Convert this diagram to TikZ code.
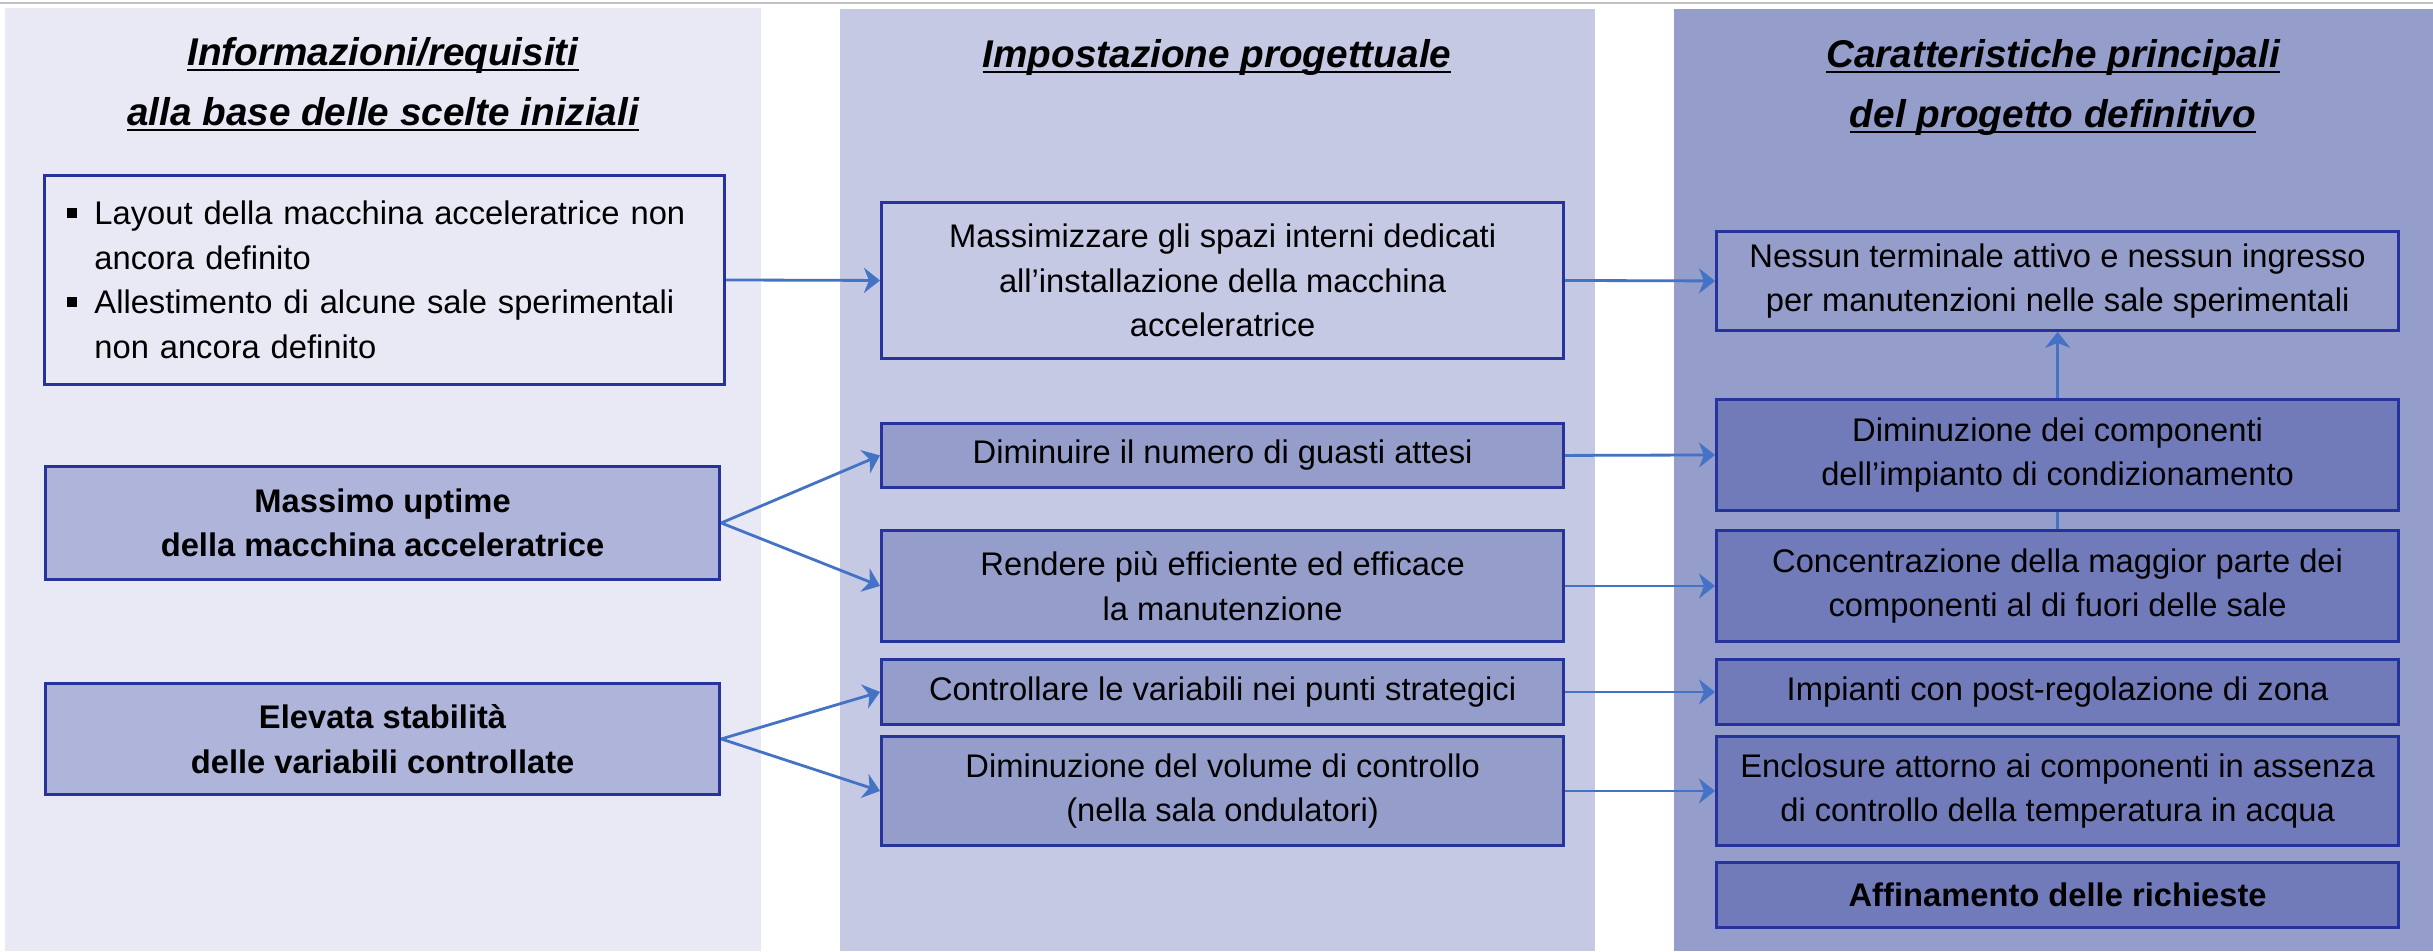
\documentclass[tikz,border=0pt]{standalone}
\usepackage{fontspec}
\setmainfont{Liberation Sans}
\usetikzlibrary{arrows.meta}
\definecolor{PanelA}{HTML}{E8E9F4}
\definecolor{PanelB}{HTML}{C5C9E4}
\definecolor{PanelC}{HTML}{959DCB}
\definecolor{FillA}{HTML}{AFB5DA}
\definecolor{FillC}{HTML}{717BB9}
\definecolor{BoxLine}{HTML}{25339A}
\definecolor{LinkClr}{HTML}{4472C4}
\definecolor{RuleClr}{HTML}{C0C0C0}

\newcommand{\bodyfont}{\fontsize{9.3}{12.7}\selectfont}
\newcommand{\sqbul}{\makebox[0.27cm][l]{\rule[2pt]{2.8pt}{2.8pt}}}
\newcommand{\sqind}{\hspace*{0.27cm}}

\begin{document}
\begin{tikzpicture}[x=0.01cm,y=-0.01cm,
  title/.style={font=\fontsize{11}{17}\selectfont\bfseries\itshape,align=center,inner sep=0pt},
  box/.style={draw=BoxLine,line width=0.8pt,inner sep=0pt,anchor=north west,align=center,font=\bodyfont},
  boldbox/.style={box,font=\bodyfont\bfseries},
  link/.style={draw=LinkClr,line width=0.8pt,-{Stealth[length=0.16cm,width=0.25cm,inset=0.05cm]}}]

\useasboundingbox (0,0) rectangle (2433,951);
\fill[white] (0,0) rectangle (2433,951);
\draw[RuleClr,line width=0.6pt] (0,3) -- (2433,3);

\fill[PanelA] (5,8) rectangle (761,951);
\fill[PanelB] (840,9) rectangle (1595,951);
\fill[PanelC] (1674,9) rectangle (2433,951);

\node[title,anchor=base] (TitA) at (383,125) {\underbar{Informazioni/requisiti}\\\underbar{alla base delle scelte iniziali}};
\node[title,anchor=base] (TitB) at (1217,67) {\underbar{Impostazione progettuale}};
\node[title,anchor=base] (TitC) at (2053,127) {\underbar{Caratteristiche principali}\\\underbar{del progetto definitivo}};

\node[box,align=left,minimum width=6.8cm,minimum height=2.09cm,text width=6.34cm,inner xsep=0.23cm] (Info) at (43,174)
  {\sqbul Layout della macchina acceleratrice non\\\sqind ancora definito\\\sqbul Allestimento di alcune sale sperimentali\\\sqind non ancora definito};
\node[boldbox,fill=FillA,minimum width=6.74cm,minimum height=1.13cm] (Uptime) at (44,465) {Massimo uptime\\della macchina acceleratrice};
\node[boldbox,fill=FillA,minimum width=6.74cm,minimum height=1.11cm] (Stab) at (44,682) {Elevata stabilità\\delle variabili controllate};

\node[box,minimum width=6.82cm,minimum height=1.56cm] (Spazi) at (880,201) {Massimizzare gli spazi interni dedicati\\all’installazione della macchina\\acceleratrice};
\node[box,fill=PanelC,minimum width=6.82cm,minimum height=0.64cm] (Guasti) at (880,422) {Diminuire il numero di guasti attesi};
\node[box,fill=PanelC,minimum width=6.82cm,minimum height=1.11cm] (Manut) at (880,529) {Rendere più efficiente ed efficace\\la manutenzione};
\node[box,fill=PanelC,minimum width=6.82cm,minimum height=0.65cm] (Contr) at (880,658) {Controllare le variabili nei punti strategici};
\node[box,fill=PanelC,minimum width=6.82cm,minimum height=1.09cm] (Vol) at (880,735) {Diminuzione del volume di controllo\\(nella sala ondulatori)};

\node[box,minimum width=6.82cm,minimum height=0.99cm] (Term) at (1715,230) {Nessun terminale attivo e nessun ingresso\\per manutenzioni nelle sale sperimentali};
\node[box,fill=FillC,minimum width=6.82cm,minimum height=1.11cm] (Comp) at (1715,398) {Diminuzione dei componenti\\dell’impianto di condizionamento};
\node[box,fill=FillC,minimum width=6.82cm,minimum height=1.11cm] (Conc) at (1715,529) {Concentrazione della maggior parte dei\\componenti al di fuori delle sale};
\node[box,fill=FillC,minimum width=6.82cm,minimum height=0.65cm] (Post) at (1715,658) {Impianti con post-regolazione di zona};
\node[box,fill=FillC,minimum width=6.82cm,minimum height=1.09cm] (Encl) at (1715,735) {Enclosure attorno ai componenti in assenza\\di controllo della temperatura in acqua};
\node[boldbox,fill=FillC,minimum width=6.82cm,minimum height=0.65cm] (Aff) at (1715,861) {Affinamento delle richieste};

\draw[link] (Info.east) -- (Spazi.west);
\draw[link] (Spazi.east) -- (Term.west);
\draw[link] (Uptime.east) -- (Guasti.west);
\draw[link] (Uptime.east) -- (Manut.west);
\draw[link] (Stab.east) -- (Contr.west);
\draw[link] (Stab.east) -- (Vol.west);
\draw[link] (Guasti.east) -- (Comp.west);
\draw[link] (Manut.east) -- (Conc.west);
\draw[link] (Contr.east) -- (Post.west);
\draw[link] (Vol.east) -- (Encl.west);
\draw[link] (Comp.north) -- (Term.south);
\draw[LinkClr,line width=0.8pt] (Comp.south) -- (Conc.north);

\end{tikzpicture}
\end{document}
